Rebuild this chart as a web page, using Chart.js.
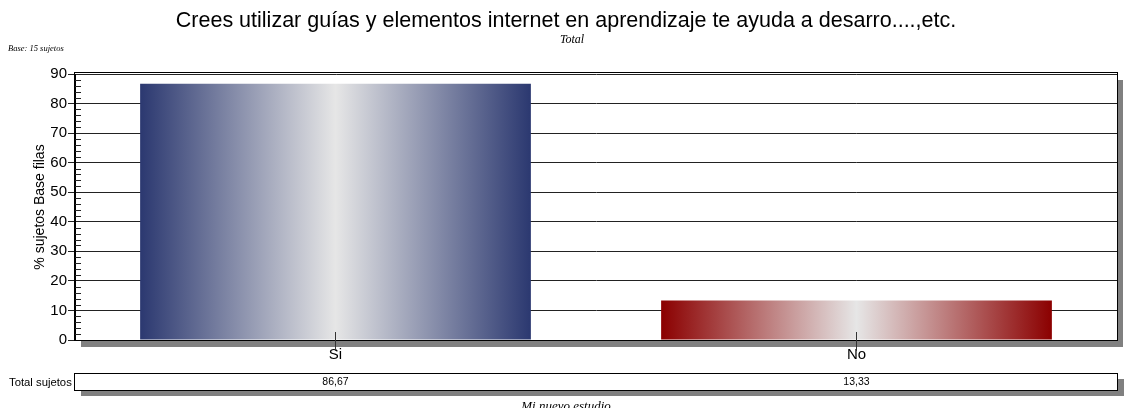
<!DOCTYPE html>
<html><head><meta charset="utf-8">
<script src="https://cdn.jsdelivr.net/npm/chart.js@4/dist/chart.umd.min.js"></script>
<style>html,body{margin:0;padding:0;background:#fff}#wrap{width:1126px;height:408px;position:relative}</style>
</head><body><div id="wrap"><canvas id="c" width="1126" height="408"></canvas></div>
<script>
const titleText = 'Crees utilizar guías y elementos internet en aprendizaje te ayuda a desarro....,etc.';
const subtitleText = 'Total';
const baseText = 'Base: 15 sujetos';
const footerText = 'Mi nuevo estudio';
const yAxisTitle = '% sujetos Base filas';
const categories = ['Si', 'No'];
const values = [86.67, 13.33];
const tableRowLabel = 'Total sujetos';
const tableValues = ['86,67', '13,33'];
const yTicks = [0, 10, 20, 30, 40, 50, 60, 70, 80, 90];
const edgeColors = ['#2b3870', '#8b0000'];
const centerColor = '#e6e6e6';

const SANS = "Arial, 'Liberation Sans', sans-serif";
const SERIF = "'Times New Roman', 'Liberation Serif', serif";
Chart.defaults.font.family = SANS;
Chart.defaults.color = '#000';

const BAR_PCT = 0.75;

function barFill(ctx) {
  const chart = ctx.chart;
  const i = ctx.dataIndex;
  if (!chart.chartArea || !chart.scales.x) return edgeColors[i];
  const xs = chart.scales.x;
  const c = xs.getPixelForValue(i);
  const half = xs.width / categories.length * BAR_PCT / 2;
  const g = chart.ctx.createLinearGradient(c - half, 0, c + half, 0);
  g.addColorStop(0, edgeColors[i]);
  g.addColorStop(0.5, centerColor);
  g.addColorStop(1, edgeColors[i]);
  return g;
}

const decor = {
  id: 'decor',
  beforeDraw(chart) {
    const { ctx, chartArea: a } = chart;
    ctx.save();
    ctx.fillStyle = '#fff';
    ctx.fillRect(0, 0, chart.width, chart.height);
    ctx.fillStyle = '#808080';
    ctx.fillRect(a.left + 6, a.top + 6, a.right - a.left, a.bottom - a.top + 1);
    ctx.fillStyle = '#fff';
    ctx.fillRect(a.left, a.top - 2, a.right - a.left, a.bottom - a.top + 2);
    ctx.restore();
  },
  afterDatasetsDraw(chart) {
    const { ctx, chartArea: a, scales: { x, y } } = chart;
    ctx.save();
    ctx.strokeStyle = '#222';
    ctx.lineWidth = 1;
    for (let k = 0; k < yTicks.length - 1; k++) {
      for (let m = 1; m < 5; m++) {
        const v = yTicks[k] + (yTicks[k + 1] - yTicks[k]) * m / 5;
        const py = Math.round(y.getPixelForValue(v)) + 0.5;
        ctx.beginPath(); ctx.moveTo(a.left, py); ctx.lineTo(a.left + 6, py); ctx.stroke();
      }
    }
    ctx.strokeStyle = '#000';
    ctx.strokeRect(Math.round(a.left) - 0.5, Math.round(a.top) - 1.5, Math.round(a.right - a.left) + 1, Math.round(a.bottom - a.top) + 2);
    ctx.strokeStyle = '#333';
    categories.forEach((c, i) => {
      const px = Math.round(x.getPixelForValue(i)) - 0.5;
      ctx.beginPath(); ctx.moveTo(px, a.bottom - 8); ctx.lineTo(px, a.bottom + 11); ctx.stroke();
    });
    const tTop = 373, tH = 17;
    ctx.fillStyle = '#808080';
    ctx.fillRect(a.left + 6, tTop + 6, a.right - a.left + 1, tH);
    ctx.fillStyle = '#fff';
    ctx.fillRect(a.left, tTop, a.right - a.left, tH);
    ctx.strokeStyle = '#000';
    ctx.strokeRect(Math.round(a.left) - 0.5, tTop + 0.5, Math.round(a.right - a.left) + 1, tH);
    ctx.fillStyle = '#000';
    ctx.textBaseline = 'middle';
    ctx.textAlign = 'left';
    ctx.font = '11.3px ' + SANS;
    ctx.fillText(tableRowLabel, 9, tTop + tH / 2 + 1);
    ctx.textAlign = 'center';
    ctx.font = '10.5px ' + SANS;
    tableValues.forEach((t, i) => ctx.fillText(t, x.getPixelForValue(i), tTop + tH / 2 + 1));
    ctx.textBaseline = 'alphabetic';
    ctx.font = '21.5px ' + SANS;
    ctx.fillText(titleText, 566, 27);
    ctx.font = 'italic 12px ' + SERIF;
    ctx.fillText(subtitleText, 572, 43);
    ctx.textAlign = 'left';
    ctx.font = 'italic 8.5px ' + SERIF;
    ctx.fillText(baseText, 8, 51);
    ctx.textAlign = 'center';
    ctx.font = 'italic 13px ' + SERIF;
    ctx.fillText(footerText, 566, 410);
    ctx.restore();
  }
};

new Chart(document.getElementById('c'), {
  type: 'bar',
  data: {
    labels: categories,
    datasets: [{
      data: values,
      backgroundColor: barFill,
      borderWidth: 0,
      barPercentage: BAR_PCT,
      categoryPercentage: 1
    }]
  },
  options: {
    responsive: false,
    animation: false,
    devicePixelRatio: 1,
    layout: { padding: { top: 74, right: 9, bottom: 0, left: 0 } },
    plugins: { legend: { display: false }, tooltip: { enabled: false }, title: { display: false } },
    scales: {
      x: {
        afterFit(s) { s.height = 68; },
        grid: { display: false, drawTicks: false, tickLength: 0 },
        border: { display: false },
        ticks: { font: { size: 15 }, color: '#000', padding: 6 }
      },
      y: {
        min: 0, max: 90,
        afterFit(s) { s.width = 75; },
        afterBuildTicks(s) { s.ticks = yTicks.map(v => ({ value: v })); },
        grid: { color: '#222', lineWidth: 1, tickLength: 7 },
        border: { color: '#000' },
        ticks: { font: { size: 15 }, color: '#000', padding: 1 },
        title: { display: true, text: yAxisTitle, font: { size: 14 }, color: '#000', padding: { top: 32, bottom: 0 } }
      }
    }
  },
  plugins: [decor]
});
</script></body></html>
